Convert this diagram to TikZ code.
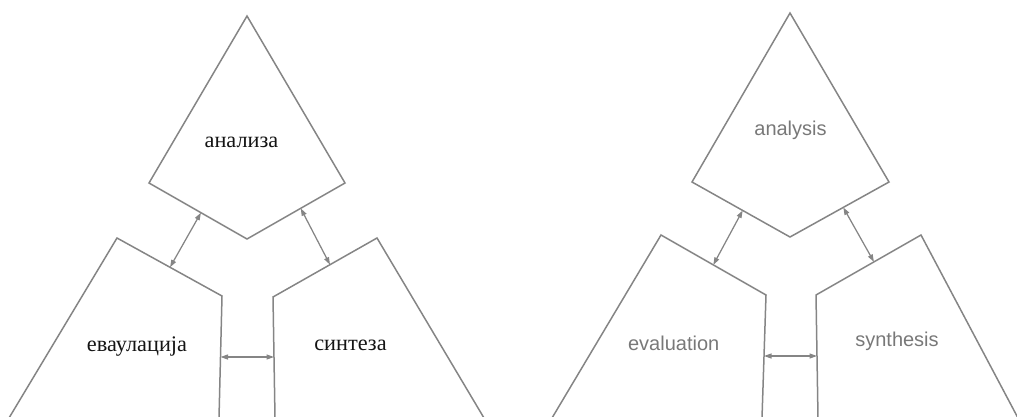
\documentclass[tikz,border=0pt]{standalone}
\usepackage{fontspec}
\setmainfont{Liberation Serif}
\newfontfamily\labelsans{Liberation Sans}
\usetikzlibrary{arrows.meta,calc}
\definecolor{edge}{HTML}{858585}
\definecolor{sanslabel}{HTML}{787878}
\begin{document}
\begin{tikzpicture}[x=1pt,y=-1pt,
  outline/.style={draw=edge,line width=1.5pt,line join=miter},
  link/.style={draw=edge,line width=1.25pt,
    {Triangle[length=7.5pt,width=5pt]}-{Triangle[length=7.5pt,width=5pt]}},
  serif label/.style={font=\fontsize{22.3}{26}\selectfont,text=black!92,anchor=base,inner sep=0pt},
  sans label/.style={font=\labelsans\fontsize{20}{24}\selectfont,text=sanslabel,anchor=base,inner sep=0pt}]
\useasboundingbox (0,0) rectangle (1017,416);
\clip (0,0) rectangle (1017,416);

% ---------- Serbian version ----------
\coordinate (sa-top) at (247,16);
\coordinate (sa-left) at (149,183);
\coordinate (sa-bottom) at (247,239);
\coordinate (sa-right) at (345,183);
\coordinate (se-top) at (117,238);
\coordinate (se-corner) at (222,296);
\coordinate (se-foot) at (219,418);
\coordinate (se-outer) at (9,418);
\coordinate (ss-top) at (377,238);
\coordinate (ss-corner) at (273,297);
\coordinate (ss-foot) at (275,418);
\coordinate (ss-outer) at (484,418);

\draw[outline] (sa-top) -- (sa-right) -- (sa-bottom) -- (sa-left) -- cycle;
\draw[outline] (se-outer) -- (se-top) -- (se-corner) -- (se-foot);
\draw[outline] (ss-outer) -- (ss-top) -- (ss-corner) -- (ss-foot);

\node[serif label] (sa-label) at (241.5,147) {анализа};
\node[serif label] (se-label) at (137,351) {^^^^0435^^^^0432^^^^0430^^^^0443^^^^043b^^^^0430^^^^0446^^^^0438^^^^0458^^^^0430};
\node[serif label] (ss-label) at (350.5,350) {синтеза};

\coordinate (sae) at ($(sa-left)!0.53!(sa-bottom)$);
\coordinate (sea) at ($(se-top)!0.505!(se-corner)$);
\coordinate (sas) at ($(sa-bottom)!0.548!(sa-right)$);
\coordinate (ssa) at ($(ss-corner)!0.548!(ss-top)$);
\coordinate (ses) at (220.5,357);
\coordinate (sse) at (274,357);
\draw[link] (sae) -- (sea);
\draw[link] (sas) -- (ssa);
\draw[link] (ses) -- (sse);

% ---------- English version ----------
\coordinate (ea-top) at (790,13);
\coordinate (ea-left) at (692,182);
\coordinate (ea-bottom) at (790,237);
\coordinate (ea-right) at (889,182);
\coordinate (ee-top) at (661,235);
\coordinate (ee-corner) at (766,295);
\coordinate (ee-foot) at (762,418);
\coordinate (ee-outer) at (552,418);
\coordinate (es-top) at (921,235);
\coordinate (es-corner) at (816,295);
\coordinate (es-foot) at (818,418);
\coordinate (es-outer) at (1018,418);

\draw[outline] (ea-top) -- (ea-right) -- (ea-bottom) -- (ea-left) -- cycle;
\draw[outline] (ee-outer) -- (ee-top) -- (ee-corner) -- (ee-foot);
\draw[outline] (es-outer) -- (es-top) -- (es-corner) -- (es-foot);

\node[sans label] (ea-label) at (790.5,135) {analysis};
\node[sans label] (ee-label) at (673.7,350) {evaluation};
\node[sans label] (es-label) at (897,346) {synthesis};

\coordinate (eae) at ($(ea-left)!0.517!(ea-bottom)$);
\coordinate (eea) at ($(ee-top)!0.498!(ee-corner)$);
\coordinate (eas) at ($(ea-bottom)!0.538!(ea-right)$);
\coordinate (esa) at ($(es-corner)!0.552!(es-top)$);
\coordinate (ees) at (764,356);
\coordinate (ese) at (817,356);
\draw[link] (eae) -- (eea);
\draw[link] (eas) -- (esa);
\draw[link] (ees) -- (ese);
\end{tikzpicture}
\end{document}
